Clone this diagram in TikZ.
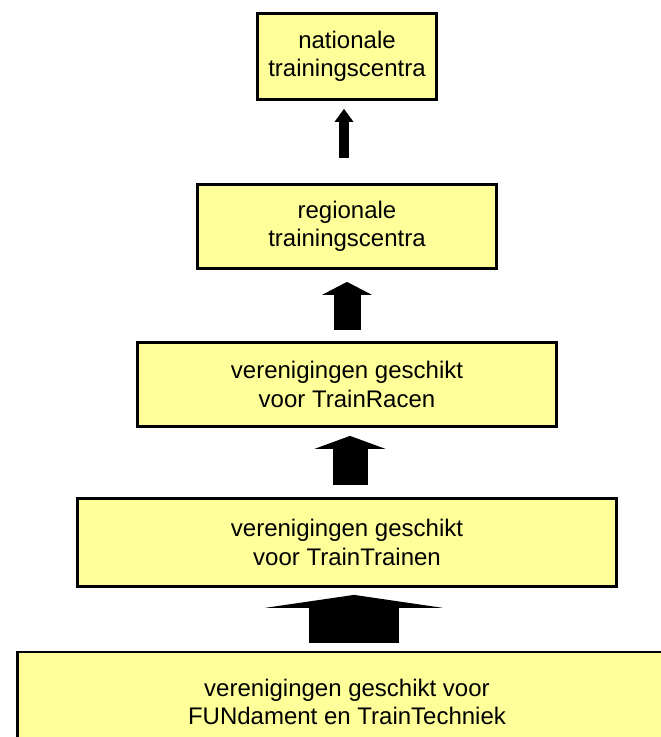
\documentclass[tikz,border=0pt]{standalone}
\usepackage{fontspec}
\setmainfont{Liberation Sans}
\usetikzlibrary{arrows.meta, positioning}

\begin{document}
\begin{tikzpicture}[
    x=1pt, y=1pt,
    every node/.style={font=\fontsize{24}{28.5}\selectfont},
]

% ---------------------------------------------------------------- colours
\definecolor{boxfill}{HTML}{FFFF99}   % the pale yellow of the levels

\tikzset{
    levelbox/.style={
        draw=black, line width=2.8pt, fill=boxfill,
        align=center, inner sep=0pt,
    },
    blockarr/.style 2 args={
        draw=black, line width=#1,
        -{Triangle[width=#2, length=13pt, line width=0pt]},
    },
}

\useasboundingbox (0,0) rectangle (661,737);

% ================================================================ the levels, top down
\node[levelbox, minimum width=179, minimum height=86] (nat)     at (347,680.5) {nationale\\trainingscentra};
\node[levelbox, minimum width=299, minimum height=84] (reg)     at (347,510.5) {regionale\\trainingscentra};
\node[levelbox, minimum width=419, minimum height=84] (racen)   at (347,352.5) {verenigingen geschikt\\voor TrainRacen};
\node[levelbox, minimum width=539, minimum height=88] (trainen) at (347,194.5) {verenigingen geschikt\\voor TrainTrainen};
\node[levelbox, minimum width=659, minimum height=100] (fund)   at (347,35)    {verenigingen geschikt voor\\FUNdament en TrainTechniek};

% ================================================================ the arrows, widening downwards
\draw[blockarr={10pt}{19pt}, shorten <=25pt, shorten >=8pt]
    ([xshift=-3pt]reg.north) -- ([xshift=-3pt]nat.south);
\draw[blockarr={27pt}{50pt}, shorten <=11pt, shorten >=12pt]
    (racen.north) -- (reg.south);
\draw[blockarr={35pt}{71pt}, shorten <=12pt, shorten >=8pt]
    ([xshift=3pt]trainen.north) -- ([xshift=3pt]racen.south);
\draw[blockarr={90pt}{178pt}, shorten <=8pt, shorten >=7pt]
    ([xshift=7pt]fund.north) -- ([xshift=7pt]trainen.south);

\end{tikzpicture}
\end{document}
